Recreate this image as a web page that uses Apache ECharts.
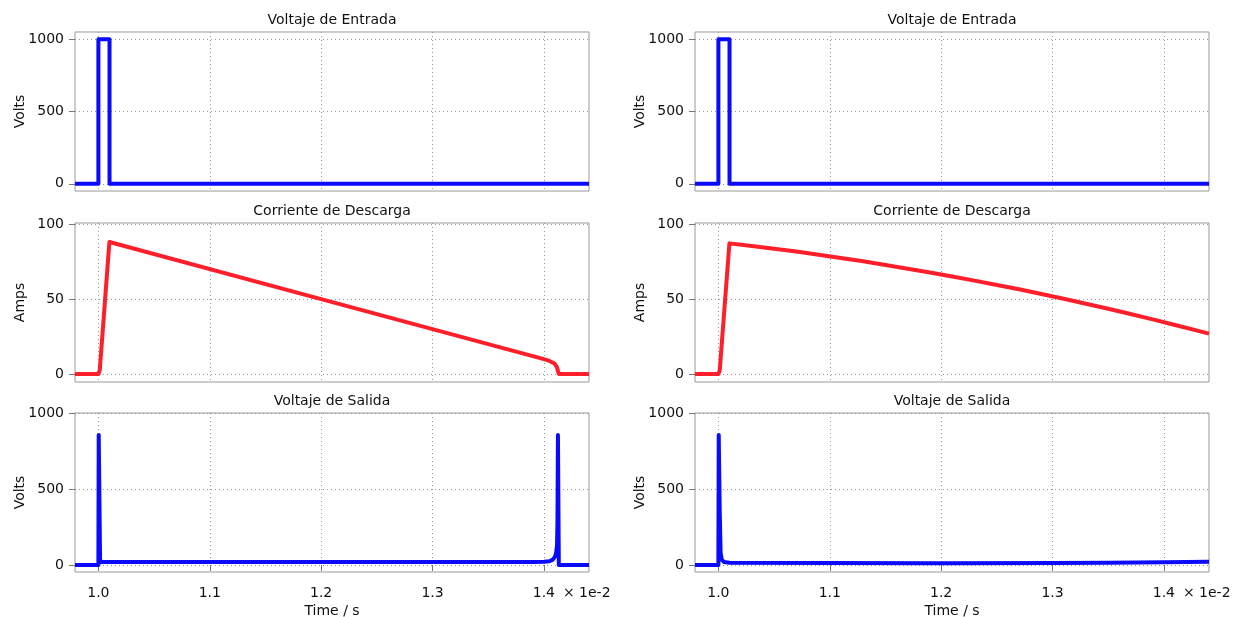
<!DOCTYPE html>
<html>
<head>
<meta charset="utf-8">
<script src="https://cdn.jsdelivr.net/npm/echarts@6/dist/echarts.min.js"></script>
<style>
  html, body { margin: 0; padding: 0; background: #ffffff; }
  #chart { width: 1234px; height: 617px; }
</style>
</head>
<body>
<div id="chart"></div>
<script>
// Time axis is in units of 1e-2 s
const xTicks = [1.0, 1.1, 1.2, 1.3, 1.4];
const voltTicks = [0, 500, 1000];
const ampTicks = [0, 50, 100];

const panelTitles = ['Voltaje de Entrada', 'Corriente de Descarga', 'Voltaje de Salida'];
const yNames = ['Volts', 'Amps', 'Volts'];

// Input pulse (same for both columns)
const inTime  = [0.979, 1.0, 1.0, 1.01, 1.01, 1.4405];
const inVolts = [0, 0, 1000, 1000, 0, 0];

// Left column: discharge current falls linearly and is cut off near 1.413
const curLeftTime = [0.979, 1.0, 1.0012, 1.0099, 1.2, 1.40, 1.405, 1.4095, 1.4115, 1.4125, 1.4134, 1.4405];
const curLeftAmps = [0, 0, 2.5, 88.2, 50.1, 10.0, 8.8, 7.0, 5.0, 2.5, 0, 0];

// Left column: output voltage with spikes at switch-on and cut-off
const outLeftTime  = [0.979, 1.0, 1.0003, 1.0015, 1.002, 1.39, 1.40, 1.405, 1.408, 1.410, 1.411, 1.4118, 1.4122, 1.4126, 1.4134, 1.4405];
const outLeftVolts = [0, 0, 856, 40, 20, 20, 22, 25, 35, 55, 80, 130, 300, 856, 0, 0];

// Right column: discharge current decays over the whole window
const curRightTime = [0.979, 1.0, 1.0012, 1.0099, 1.03, 1.05, 1.07, 1.09, 1.11, 1.13, 1.15, 1.17, 1.19, 1.21, 1.23,
                      1.25, 1.27, 1.29, 1.31, 1.33, 1.35, 1.37, 1.39, 1.41, 1.43, 1.4405];
const curRightAmps = [0, 0, 2.5, 87.3, 85.5, 83.7, 81.8, 79.7, 77.5, 75.3, 72.9, 70.4, 67.9, 65.2, 62.4,
                      59.5, 56.6, 53.5, 50.3, 47.0, 43.6, 40.1, 36.5, 32.8, 29.0, 27.0];

// Right column: output voltage, single spike then a slowly rising baseline
const outRightTime  = [0.979, 1.0, 1.0003, 1.0012, 1.002, 1.003, 1.005, 1.01, 1.1, 1.2, 1.3, 1.35, 1.4, 1.4405];
const outRightVolts = [0, 0, 856, 350, 80, 35, 20, 15, 13, 12, 13, 15, 18, 22];

const BLUE = '#0a0aff';
const RED = '#ff1f2b';
const FONT = 'DejaVu Sans';
const TEXT = '#111111';
const FRAME = '#999999';

const colLeft = [75, 695];
const plotW = 514;
const rowTop = [32, 223, 413];
const plotH = 159;
const yRange = [[-50, 1050], [-5.3, 100.9], [-46, 1000]];
const yTickSets = [voltTicks, ampTicks, voltTicks];

const panels = [
  [inTime, inVolts, BLUE], [curLeftTime, curLeftAmps, RED], [outLeftTime, outLeftVolts, BLUE],
  [inTime, inVolts, BLUE], [curRightTime, curRightAmps, RED], [outRightTime, outRightVolts, BLUE]
];

const zip = (xs, ys) => xs.map((x, i) => [x, ys[i]]);

const grids = [], xAxes = [], yAxes = [], series = [], graphics = [];
const dotted = { show: true, lineStyle: { color: '#9a9a9a', type: [1, 3], width: 1 } };

for (let c = 0; c < 2; c++) {
  for (let r = 0; r < 3; r++) {
    const idx = c * 3 + r;
    const bottomRow = r === 2;
    grids.push({
      left: colLeft[c], top: rowTop[r], width: plotW, height: plotH,
      outerBoundsMode: 'none', containLabel: false,
      show: true, borderColor: FRAME, borderWidth: 1, backgroundColor: 'transparent'
    });
    xAxes.push({
      type: 'value', gridIndex: idx, min: 0.979, max: 1.4405,
      axisLine: { show: false },
      axisTick: { show: bottomRow, customValues: xTicks, length: 6, lineStyle: { color: '#777' } },
      axisLabel: {
        show: bottomRow, customValues: xTicks, margin: 14,
        fontFamily: FONT, fontSize: 14, color: TEXT,
        formatter: v => v.toFixed(1)
      },
      splitLine: dotted,
      name: bottomRow ? 'Time / s' : '',
      nameLocation: 'middle', nameGap: 32, nameMoveOverlap: false,
      nameTextStyle: { fontFamily: FONT, fontSize: 14, color: TEXT }
    });
    yAxes.push({
      type: 'value', gridIndex: idx, min: yRange[r][0], max: yRange[r][1],
      axisLine: { show: false },
      axisTick: { show: true, customValues: yTickSets[r], length: 6, lineStyle: { color: '#777' } },
      axisLabel: {
        customValues: yTickSets[r], margin: 11,
        fontFamily: FONT, fontSize: 14, color: TEXT,
        formatter: v => String(v)
      },
      splitLine: dotted,
      name: yNames[r], nameLocation: 'middle', nameGap: 48, nameRotate: 90, nameMoveOverlap: false,
      nameTextStyle: { fontFamily: FONT, fontSize: 14, color: TEXT }
    });
    const [t, v, col] = panels[idx];
    series.push({
      type: 'line', xAxisIndex: idx, yAxisIndex: idx,
      data: zip(t, v), showSymbol: false, symbol: 'none',
      lineStyle: { color: col, width: 4, join: 'round' },
      animation: false
    });
    graphics.push({
      type: 'text', x: colLeft[c] + plotW / 2, y: rowTop[r] - 12,
      style: {
        text: panelTitles[r], fontFamily: FONT, fontSize: 14, fill: TEXT,
        textAlign: 'center', textVerticalAlign: 'middle'
      }
    });
  }
}

const chart = echarts.init(document.getElementById('chart'), null, { renderer: 'canvas' });
chart.setOption({
  animation: false,
  grid: grids, xAxis: xAxes, yAxis: yAxes, series: series, graphic: graphics
});

// Exponent note after the last tick label of each bottom axis
[2, 5].forEach(ai => {
  const px = chart.convertToPixel({ xAxisIndex: ai }, 1.4);
  graphics.push({
    type: 'text', x: px + 19, y: rowTop[2] + plotH + 21,
    style: {
      text: '× 1e-2', fontFamily: FONT, fontSize: 14, fill: TEXT,
      textAlign: 'left', textVerticalAlign: 'middle'
    }
  });
});
chart.setOption({ graphic: graphics });
</script>
</body>
</html>
